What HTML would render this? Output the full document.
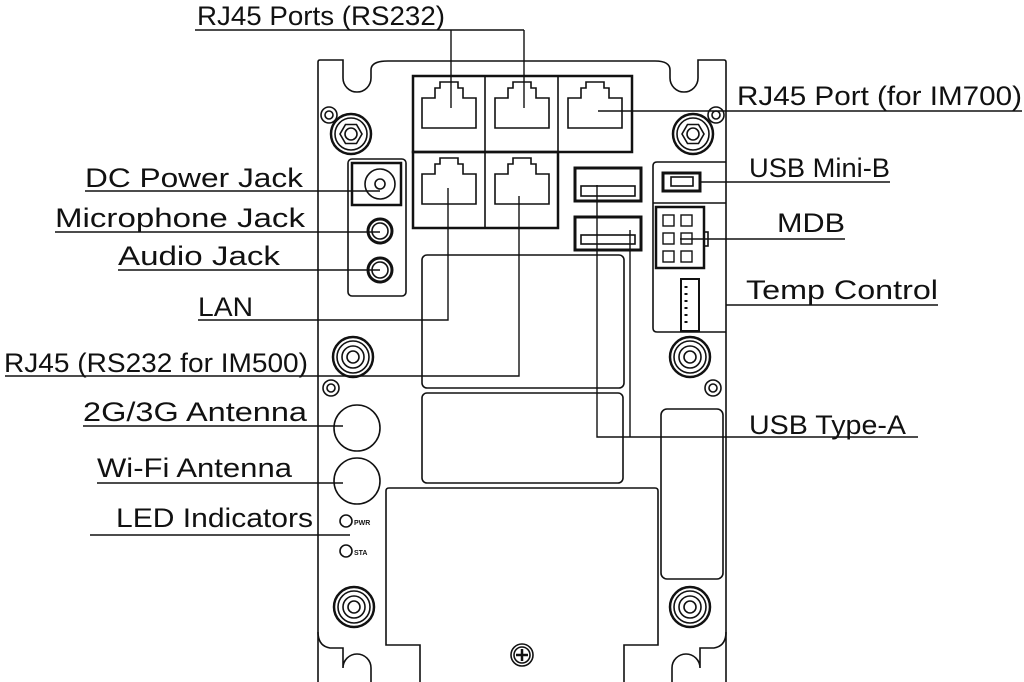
<!DOCTYPE html>
<html><head><meta charset="utf-8"><style>
html,body{margin:0;padding:0;background:#fff;}
svg{display:block;}
text{font-family:"Liberation Sans",sans-serif;font-size:27px;fill:#111;}
</style></head><body>
<svg width="1024" height="682" viewBox="0 0 1024 682" xmlns="http://www.w3.org/2000/svg">
<g fill="none" stroke="#111" stroke-width="1.6">
<!-- outer plate -->
<path d="M318,682 V62 Q318,60 320,60 H343 V78 A14,14 0 0 0 371,78 V70 Q371,61 388,61 H655 Q670,61 670,70 V78 A14,14 0 0 0 698,78 V60 H724 Q726,60 726,62 V682"/>
<path d="M318,632 Q318,646 330,648 H343 V668 A14,14 0 0 1 371,668 V682"/>
<path d="M726,632 Q726,646 714,648 H700 V668 A14,14 0 0 0 672,668 V682"/>
<!-- bottom inner -->
<path d="M420,682 V645 H386 V491 Q386,488 389,488 H655 Q658,488 658,491 V645 H624 V682"/>
<circle cx="522" cy="655" r="11"/><circle cx="522" cy="655" r="8"/>
<path d="M516,655 H528 M522,649 V661" stroke-width="2.5"/>
</g>
<g fill="none" stroke="#111" stroke-width="1.6">
<g transform="translate(351,134)"><circle r="20" stroke-width="2.5"/><circle r="16"/><polygon points="11,0 5.5,9.5 -5.5,9.5 -11,0 -5.5,-9.5 5.5,-9.5"/><circle r="6"/></g>
<g transform="translate(693,134)"><circle r="20" stroke-width="2.5"/><circle r="16"/><polygon points="11,0 5.5,9.5 -5.5,9.5 -11,0 -5.5,-9.5 5.5,-9.5"/><circle r="6"/></g>
<g transform="translate(353,357)"><circle r="20" stroke-width="2.5"/><circle r="16"/><circle r="11"/><circle r="6"/></g>
<g transform="translate(690,357)"><circle r="20" stroke-width="2.5"/><circle r="16"/><circle r="11"/><circle r="6"/></g>
<g transform="translate(354,607)"><circle r="20" stroke-width="2.5"/><circle r="16"/><circle r="11"/><circle r="6"/></g>
<g transform="translate(690,607)"><circle r="20" stroke-width="2.5"/><circle r="16"/><circle r="11"/><circle r="6"/></g>
<circle cx="329" cy="115" r="8"/><circle cx="329" cy="115" r="4"/>
<circle cx="716" cy="115" r="8"/><circle cx="716" cy="115" r="4"/>
<circle cx="331" cy="388" r="8"/><circle cx="331" cy="388" r="4"/>
<circle cx="713" cy="388" r="8"/><circle cx="713" cy="388" r="4"/>
<!-- RJ45 block -->
<rect x="413" y="76" width="219" height="76" stroke-width="2.5"/>
<rect x="413" y="152" width="145" height="76" stroke-width="2.5"/>
<path d="M485,76 V228 M558,76 V152"/>
<path id="j" d="M422,128 V98 H435 V88 H440 V82 H458 V88 H463 V98 H476 V128 Z"/>
<use href="#j" x="73"/><use href="#j" x="146"/>
<use href="#j" y="76"/><use href="#j" x="73" y="76"/>
<!-- left jack panel -->
<rect x="348" y="159" width="58" height="137" rx="4"/>
<rect x="352" y="163" width="49" height="42" stroke-width="2.5"/>
<circle cx="380" cy="184" r="15"/><circle cx="380" cy="184" r="5"/>
<circle cx="380" cy="231" r="12" stroke-width="3"/><circle cx="380" cy="231" r="8"/>
<circle cx="380" cy="270" r="12" stroke-width="3"/><circle cx="380" cy="270" r="8"/>
<!-- USB A -->
<rect x="575" y="168" width="66" height="33" stroke-width="3"/>
<rect x="581" y="186" width="54" height="10"/>
<rect x="575" y="217" width="66" height="33" stroke-width="3"/>
<rect x="581" y="235" width="54" height="9"/>
<!-- right panel -->
<path d="M726,162 H657 Q653,162 653,166 V328 Q653,332 657,332 H726"/>
<path d="M653,203 H726"/>
<rect x="663" y="173" width="37" height="18" stroke-width="3"/>
<rect x="671" y="177" width="22" height="9"/>
<rect x="656" y="207" width="48" height="61" stroke-width="2.5"/>
<rect x="704" y="232" width="4" height="14"/>
<g stroke-width="1.4">
<rect x="663" y="215" width="11" height="11"/><rect x="681" y="215" width="11" height="11"/>
<rect x="663" y="233" width="11" height="11"/><rect x="681" y="233" width="11" height="11"/>
<rect x="663" y="251" width="11" height="11"/><rect x="681" y="251" width="11" height="11"/>
</g>
<rect x="681" y="279" width="18" height="52" stroke-width="2"/>
<path d="M686,286 V326" stroke-dasharray="2,5" stroke-width="3"/>
<!-- middle rects -->
<rect x="422" y="255" width="202" height="133" rx="5"/>
<rect x="422" y="393" width="201" height="90" rx="5"/>
<rect x="661" y="409" width="62" height="170" rx="6"/>
<!-- antennas -->
<circle cx="357" cy="428" r="23"/>
<circle cx="357" cy="481" r="23"/>
<circle cx="346" cy="521" r="6"/>
<circle cx="346" cy="551" r="6"/>
</g>
<text x="354" y="525" style="font-size:7px;font-weight:bold">PWR</text>
<text x="354" y="555" style="font-size:7px;font-weight:bold">STA</text>
<!-- leader lines -->
<g fill="none" stroke="#111" stroke-width="1.4">
<path d="M195,30 H524 M451,30 V108 M524,30 V108"/>
<path d="M598,111 H1022"/>
<path d="M700,182 H890"/>
<path d="M680,239 H845"/>
<path d="M726,305 H938"/>
<path d="M597,185 V437 H918 M630,230 V437"/>
<path d="M85,191 H380"/>
<path d="M55,232 H380"/>
<path d="M118,270 H380"/>
<path d="M198,320 H448 V188"/>
<path d="M5,376 H519 V196"/>
<path d="M83,426 H343"/>
<path d="M97,483 H343"/>
<path d="M90,535 H350"/>
</g>
<text x="197" y="25" textLength="248" lengthAdjust="spacingAndGlyphs">RJ45 Ports (RS232)</text>
<text x="737" y="105" textLength="285" lengthAdjust="spacingAndGlyphs">RJ45 Port (for IM700)</text>
<text x="749" y="177" textLength="141" lengthAdjust="spacingAndGlyphs">USB Mini-B</text>
<text x="777" y="232" textLength="68" lengthAdjust="spacingAndGlyphs">MDB</text>
<text x="746" y="299" textLength="192" lengthAdjust="spacingAndGlyphs">Temp Control</text>
<text x="749" y="434" textLength="157" lengthAdjust="spacingAndGlyphs">USB Type-A</text>
<text x="85" y="187" textLength="218" lengthAdjust="spacingAndGlyphs">DC Power Jack</text>
<text x="55" y="227" textLength="250" lengthAdjust="spacingAndGlyphs">Microphone Jack</text>
<text x="118" y="265" textLength="162" lengthAdjust="spacingAndGlyphs">Audio Jack</text>
<text x="198" y="316" textLength="55" lengthAdjust="spacingAndGlyphs">LAN</text>
<text x="4" y="372" textLength="304" lengthAdjust="spacingAndGlyphs">RJ45 (RS232 for IM500)</text>
<text x="83" y="421" textLength="224" lengthAdjust="spacingAndGlyphs">2G/3G Antenna</text>
<text x="97" y="477" textLength="195" lengthAdjust="spacingAndGlyphs">Wi-Fi Antenna</text>
<text x="116" y="527" textLength="197" lengthAdjust="spacingAndGlyphs">LED Indicators</text>
</svg>
</body></html>
